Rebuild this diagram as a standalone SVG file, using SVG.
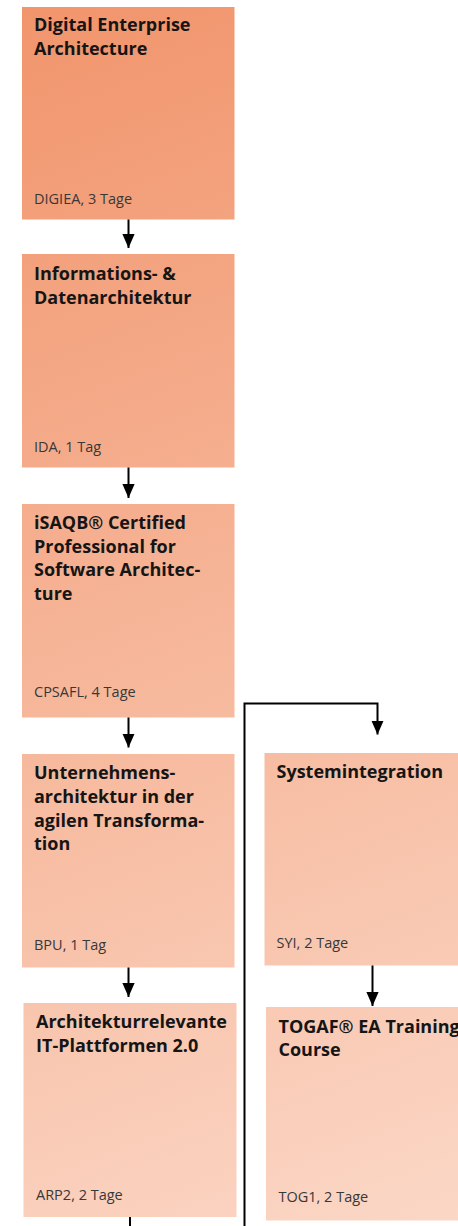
<svg xmlns="http://www.w3.org/2000/svg" width="458" height="1226" viewBox="0 0 458 1226">
<defs>
<linearGradient id="bg" gradientUnits="userSpaceOnUse" x1="0" y1="0" x2="458" y2="1226">
<stop offset="0" stop-color="#F1946B"/>
<stop offset="1" stop-color="#FBD7C6"/>
</linearGradient>
<marker id="ah" markerUnits="userSpaceOnUse" markerWidth="14" markerHeight="16" refX="16" refY="7" orient="auto" viewBox="0 0 16 14">
<path d="M0,0 L16,7 L0,14 Z" fill="#000"/>
</marker>
</defs>
<style>
.box{fill:url(#bg);}
.t{font-family:"Open Sans",Lato,sans-serif;font-weight:700;font-size:18px;fill:#151515;}
.f{font-family:"Open Sans",Lato,sans-serif;font-size:14.5px;fill:#383838;}
.c{fill:none;stroke:#000;stroke-width:2;}
</style>
<rect width="458" height="1226" fill="#fff"/>
<g id="DIGIEA">
<rect class="box" x="22" y="7" width="212.5" height="212.5"/>
<text class="t" x="34" y="31">Digital Enterprise</text>
<text class="t" x="34" y="55">Architecture</text>
<text class="f" x="34" y="204">DIGIEA, 3 Tage</text>
</g>
<g id="IDA">
<rect class="box" x="22" y="254" width="212.5" height="213.5"/>
<text class="t" x="34" y="280">Informations- &amp;</text>
<text class="t" x="34" y="304">Datenarchitektur</text>
<text class="f" x="34" y="452">IDA, 1 Tag</text>
</g>
<g id="CPSAFL">
<rect class="box" x="22" y="504" width="212.5" height="213.5"/>
<text class="t" x="34" y="528.5">iSAQB® Certified</text>
<text class="t" x="34" y="552.5">Professional for</text>
<text class="t" x="34" y="576">Software Architec-</text>
<text class="t" x="34" y="599.5">ture</text>
<text class="f" x="34" y="697">CPSAFL, 4 Tage</text>
</g>
<g id="BPU">
<rect class="box" x="22" y="754" width="212.5" height="213.5"/>
<text class="t" x="34" y="779">Unternehmens-</text>
<text class="t" x="34" y="803">architektur in der</text>
<text class="t" x="34" y="826.5">agilen Transforma-</text>
<text class="t" x="34" y="850">tion</text>
<text class="f" x="34" y="950">BPU, 1 Tag</text>
</g>
<g id="ARP2">
<rect class="box" x="23.5" y="1003" width="213" height="214"/>
<text class="t" x="36" y="1027.5">Architekturrelevante</text>
<text class="t" x="36" y="1051.5">IT-Plattformen 2.0</text>
<text class="f" x="36" y="1200">ARP2, 2 Tage</text>
</g>
<g id="SYI">
<rect class="box" x="264.5" y="753" width="213" height="212.5"/>
<text class="t" x="276.5" y="777.5">Systemintegration</text>
<text class="f" x="276.5" y="948">SYI, 2 Tage</text>
</g>
<g id="TOG1">
<rect class="box" x="266" y="1007" width="213" height="213.5"/>
<text class="t" x="278.5" y="1033">TOGAF® EA Training</text>
<text class="t" x="278.5" y="1056">Course</text>
<text class="f" x="278.5" y="1202">TOG1, 2 Tage</text>
</g>
<g id="connectors">
<path class="c" d="M128.5,219.5 V248" marker-end="url(#ah)"/>
<path class="c" d="M128.5,467.5 V498" marker-end="url(#ah)"/>
<path class="c" d="M128.5,717.5 V747.5" marker-end="url(#ah)"/>
<path class="c" d="M128.5,967.5 V997" marker-end="url(#ah)"/>
<path class="c" d="M130,1217 V1230"/>
<path class="c" d="M244.5,1230 V703.5 H377.5 V734.5" marker-end="url(#ah)"/>
<path class="c" d="M372.5,965.5 V1006" marker-end="url(#ah)"/>
</g>
</svg>
